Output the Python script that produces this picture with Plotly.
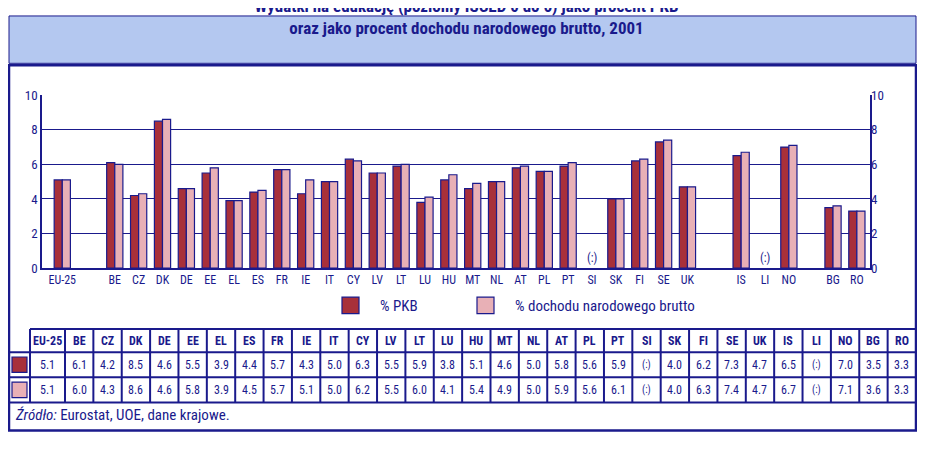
import plotly.graph_objects as go

countries = ["EU-25","BE","CZ","DK","DE","EE","EL","ES","FR","IE","IT","CY","LV","LT","LU","HU","MT","NL","AT","PL","PT","SI","SK","FI","SE","UK","IS","LI","NO","BG","RO"]
pkb = [5.1,6.1,4.2,8.5,4.6,5.5,3.9,4.4,5.7,4.3,5.0,6.3,5.5,5.9,3.8,5.1,4.6,5.0,5.8,5.6,5.9,None,4.0,6.2,7.3,4.7,6.5,None,7.0,3.5,3.3]
dnb = [5.1,6.0,4.3,8.6,4.6,5.8,3.9,4.5,5.7,5.1,5.0,6.2,5.5,6.0,4.1,5.4,4.9,5.0,5.9,5.6,6.1,None,4.0,6.3,7.4,4.7,6.7,None,7.1,3.6,3.3]
group_gap_after = {"EU-25": 1.2, "UK": 1.25, "NO": 0.85}

OFF = 8  # page body margin
W, H = 925 - OFF, 451 - OFF
NAVY = "#1a1a8c"
C1, C2 = "#a8303a", "#e8b0b6"
FONT = "Liberation Sans Narrow, Roboto Condensed, Arial Narrow, sans-serif"

xs, pos = [], 0.0
for c in countries:
    xs.append(pos)
    pos += 1 + group_gap_after.get(c, 0)

def px(x): return (x - OFF) / W
def py(y): return 1 - (y - OFF) / H

fig = go.Figure()
bw = 0.34
for vals, col, name, off in [(pkb, C1, "% PKB", -bw), (dnb, C2, "% dochodu narodowego brutto", 0)]:
    fig.add_trace(go.Bar(x=xs, y=vals, width=bw, offset=off, marker=dict(color=col, line=dict(color=NAVY, width=1.2)), name=name, showlegend=False))
fig.add_trace(go.Scatter(x=[xs[0]], y=[None], yaxis="y2", showlegend=False))

for c, x, v in zip(countries, xs, pkb):
    if v is None:
        fig.add_annotation(x=x, y=0.6, text="(:)", showarrow=False, font=dict(size=12, color=NAVY, family=FONT))

shapes, ann = [], []
def line(x0, y0, x1, y1, w=2):
    shapes.append(dict(type="line", xref="paper", yref="paper", x0=px(x0), y0=py(y0), x1=px(x1), y1=py(y1), line=dict(color=NAVY, width=w)))
def text(x, y, t, size=12, bold=False, xanchor="center", color=NAVY):
    ann.append(dict(xref="paper", yref="paper", x=px(x), y=py(y), text=f"<b>{t}</b>" if bold else t, showarrow=False, xanchor=xanchor, yanchor="middle", font=dict(size=size, color=color, family=FONT)))

shapes.append(dict(type="rect", xref="paper", yref="paper", x0=px(9), y0=py(9), x1=px(916), y1=py(58), fillcolor="#b4c8f0", line=dict(color=NAVY, width=1), layer="below"))
shapes.append(dict(type="rect", xref="paper", yref="paper", x0=px(9), y0=py(60), x1=px(916), y1=py(438), line=dict(color=NAVY, width=2.5)))
text(53, 76, "%", 12); text(872, 76, "%", 12)

for lx, col, lab in [(342, C1, "% PKB"), (477, C2, "% dochodu narodowego brutto")]:
    shapes.append(dict(type="rect", xref="paper", yref="paper", x0=px(lx), y0=py(300), x1=px(lx+17), y1=py(317), fillcolor=col, line=dict(color=NAVY, width=1.2)))
    text(lx + 36, 309, lab, 15, xanchor="left")

cols = [30, 65] + [65 + (916 - 65) / 30 * i for i in range(1, 31)]
for i, c in enumerate(countries):
    cx = (cols[i] + cols[i + 1]) / 2
    text(cx, 345, c, 12, True)
    text(cx, 370, "(:)" if pkb[i] is None else f"{pkb[i]:.1f}", 12 if pkb[i] is not None else 10)
    text(cx, 396, "(:)" if dnb[i] is None else f"{dnb[i]:.1f}", 12 if dnb[i] is not None else 10)
line(30, 333, 916, 333)
for yy in (357, 383, 409):
    line(9, yy, 916, yy)
for xx in cols:
    line(xx, 333, xx, 409)
for yy, col in [(370, C1), (396, C2)]:
    shapes.append(dict(type="rect", xref="paper", yref="paper", x0=px(12), y0=py(yy-8), x1=px(27), y1=py(yy+8), fillcolor=col, line=dict(color=NAVY, width=1.2)))
text(13, 422, "<i>Źródło:</i> Eurostat, UOE, dane krajowe.", 15, xanchor="left")

xr = [xs[0] - 0.85, xs[-1] + 0.55]
fig.update_layout(
    width=W, height=H, margin=dict(l=0, r=0, t=0, b=0),
    paper_bgcolor="white", plot_bgcolor="white", shapes=shapes, annotations=ann,
    font=dict(family=FONT, color=NAVY, size=12),
    title=dict(text="<b>Wydatki na edukację (poziomy ISCED 0 do 6) jako procent PKB<br>oraz jako procent dochodu narodowego brutto, 2001</b>",
               x=0.5, xanchor="center", xref="paper", y=1 - 4 / H, yanchor="top", yref="container",
               font=dict(size=17, color=NAVY, family=FONT)),
    xaxis=dict(domain=[px(42), px(870)], range=xr, tickvals=xs, ticktext=countries, showline=True, linecolor=NAVY, linewidth=1.5, showgrid=False, ticks="", tickfont=dict(size=12, color=NAVY)),
    yaxis=dict(domain=[py(270), py(91)], range=[0, 10], dtick=2, showgrid=True, gridcolor=NAVY, gridwidth=1.2, showline=True, linecolor=NAVY, linewidth=1.5, mirror=True, ticks="", tickfont=dict(size=13, color=NAVY), zeroline=False),
    yaxis2=dict(overlaying="y", side="right", range=[0, 10], dtick=2, showgrid=False, ticks="", tickfont=dict(size=13, color=NAVY), zeroline=False),
)
fig.write_html("out.html")
